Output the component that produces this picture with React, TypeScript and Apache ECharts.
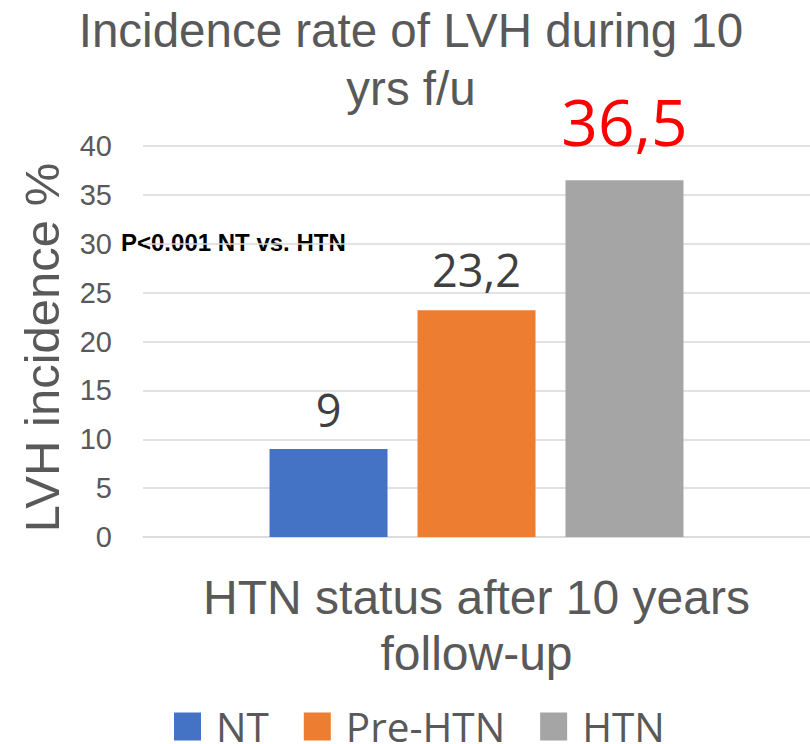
import React, { useEffect, useRef } from "react";
import * as echarts from "echarts";

const categories = ["HTN status after 10 years\nfollow-up"];
const seriesNames = ["NT", "Pre-HTN", "HTN"];
const seriesValues = [[9], [23.2], [36.5]];
const seriesColors = ["#4472C4", "#ED7D31", "#A5A5A5"];
const yTicks = { min: 0, max: 40, interval: 5 };
const titleText = "Incidence rate of LVH during 10\nyrs f/u";
const yAxisName = "LVH incidence %";
const noteText = "P<0.001 NT vs. HTN";

export default function App() {
  const ref = useRef<HTMLDivElement>(null);
  useEffect(() => {
    if (!ref.current) return;
    const chart = echarts.init(ref.current, null, { renderer: "svg" });
    const labelStyles = [
      { fontSize: 45, color: "#404040", distance: 17 },
      { fontSize: 45, color: "#404040", distance: 18 },
      { fontSize: 64, color: "#FF0000", distance: 27 },
    ];
    chart.setOption({
      animation: false,
      backgroundColor: "#ffffff",
      title: {
        text: titleText,
        left: 411,
        top: 1,
        padding: 0,
        textAlign: "center",
        textStyle: {
          fontFamily: "Liberation Sans, Arial",
          fontSize: 47.5,
          fontWeight: "normal",
          color: "#595959",
          lineHeight: 58,
        },
      },
      legend: {
        data: seriesNames,
        left: 174,
        top: 706,
        padding: 0,
        itemWidth: 27,
        itemHeight: 28,
        itemGap: 35,
        icon: "rect",
        textStyle: {
          fontFamily: "Open Sans",
          fontSize: 40.5,
          color: "#595959",
          padding: [0, 0, 0, 10],
        },
      },
      grid: { left: 143, right: -9, top: 146, bottom: 207 },
      xAxis: {
        type: "category",
        data: categories,
        axisTick: { show: false },
        axisLine: { lineStyle: { color: "#D9D9D9", width: 1.5 } },
        axisLabel: {
          fontFamily: "Liberation Sans, Arial",
          fontSize: 48,
          lineHeight: 56,
          color: "#595959",
          margin: 32,
        },
      },
      yAxis: {
        type: "value",
        min: yTicks.min,
        max: yTicks.max,
        interval: yTicks.interval,
        name: yAxisName,
        nameLocation: "middle",
        nameGap: 77,
        nameTextStyle: {
          fontFamily: "Liberation Sans, Arial",
          fontSize: 49,
          color: "#595959",
          padding: [0, 12, 0, 0],
        },
        axisLine: { show: false },
        axisTick: { show: false },
        axisLabel: {
          fontFamily: "Liberation Sans, Arial",
          fontSize: 29,
          color: "#595959",
          margin: 31,
        },
        splitLine: { lineStyle: { color: "#D9D9D9", width: 1.5 } },
      },
      series: seriesNames.map((name, i) => ({
        name,
        type: "bar",
        data: seriesValues[i],
        barWidth: 118,
        barGap: "25.4%",
        itemStyle: { color: seriesColors[i] },
        label: {
          show: true,
          position: "top",
          distance: labelStyles[i].distance,
          fontFamily: "Open Sans",
          fontSize: labelStyles[i].fontSize,
          color: labelStyles[i].color,
          formatter: (p: any) => String(p.value).replace(".", ","),
        },
      })),
      graphic: [
        {
          type: "text",
          left: 121,
          top: 230,
          style: {
            text: noteText,
            fontFamily: "Liberation Sans, Arial",
            fontSize: 24,
            fontWeight: "bold",
            fill: "#000000",
          },
        },
      ],
    });
    return () => chart.dispose();
  }, []);
  return (
    <div
      ref={ref}
      style={{ position: "fixed", left: 0, top: 0, width: 810, height: 744 }}
    />
  );
}
